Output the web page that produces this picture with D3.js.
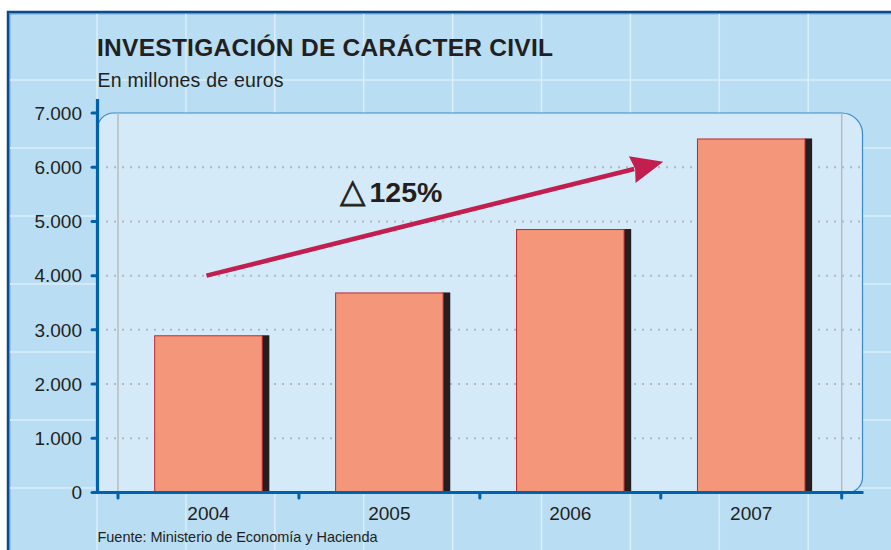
<!DOCTYPE html>
<html>
<head>
<meta charset="utf-8">
<script src="https://cdn.jsdelivr.net/npm/d3@7"></script>
<style>
  html, body { margin: 0; padding: 0; background: #fff; }
  svg { display: block; }
  text { font-family: "Liberation Sans", Arial, Helvetica, sans-serif; fill: #231f20; }
</style>
</head>
<body>
<svg id="chart" width="891" height="550"></svg>
<script>
// ---- data ----
const years = ["2004", "2005", "2006", "2007"];
const values = [2900, 3690, 4860, 6530];
const yTicks = [0, 1000, 2000, 3000, 4000, 5000, 6000, 7000];
const yTickLabels = ["0", "1.000", "2.000", "3.000", "4.000", "5.000", "6.000", "7.000"];
const title = "INVESTIGACIÓN DE CARÁCTER CIVIL";
const subtitle = "En millones de euros";
const source = "Fuente: Ministerio de Economía y Hacienda";
const growthLabel = "125%";
const arrowStartValue = 4000;
const arrowEndValue = 6100;

// ---- layout ----
const W = 891, H = 550;
const svg = d3.select("#chart");

const x = d3.scaleBand().domain(years).range([118, 841.7]).paddingInner(0.4).paddingOuter(0.2);
const y = d3.scaleLinear().domain([0, 7000]).range([492.5, 113]);

// background frame
svg.append("rect").attr("x", 0).attr("y", 0).attr("width", W).attr("height", H).attr("fill", "#ffffff");
svg.append("rect").attr("x", 8).attr("y", 12).attr("width", W + 20).attr("height", H + 20)
  .attr("fill", "#b9ddf3").attr("stroke", "#0d4a8b").attr("stroke-width", 2.5);
svg.append("rect").attr("x", 9.8).attr("y", 13.8).attr("width", W + 20).attr("height", H + 20)
  .attr("fill", "none").attr("stroke", "#3d8ed1").attr("stroke-width", 1);

// background grid
const bg = svg.append("g").attr("stroke", "#dbeefa").attr("stroke-width", 1.5);
for (let gx = 97; gx < W; gx += 88.9) {
  bg.append("line").attr("x1", gx).attr("x2", gx).attr("y1", 14).attr("y2", H);
}
for (let gy = 80; gy < H; gy += 68) {
  bg.append("line").attr("x1", 10).attr("x2", W).attr("y1", gy).attr("y2", gy);
}

// inner panel with rounded corners (TL, TR, BR)
const px0 = 97.5, px1 = 862.5, py0 = y(7000), py1 = y(0);
const rTL = 16, rTR = 21, rBR = 15;
const panelPath = d3.path();
panelPath.moveTo(px0, py1);
panelPath.lineTo(px0, py0 + rTL);
panelPath.arcTo(px0, py0, px0 + rTL, py0, rTL);
panelPath.lineTo(px1 - rTR, py0);
panelPath.arcTo(px1, py0, px1, py0 + rTR, rTR);
panelPath.lineTo(px1, py1 - rBR);
panelPath.arcTo(px1, py1, px1 - rBR, py1, rBR);
panelPath.lineTo(px0, py1);
panelPath.closePath();
svg.append("path").attr("d", panelPath.toString())
  .attr("fill", "#d4eaf8").attr("stroke", "#3a87cb").attr("stroke-width", 1.2);

// dotted horizontal gridlines
svg.append("g").selectAll("line").data(yTicks.filter(d => d > 0 && d < 7000)).join("line")
  .attr("x1", 106).attr("x2", 862).attr("y1", d => y(d)).attr("y2", d => y(d))
  .attr("stroke", "#b4b8bb").attr("stroke-width", 2).attr("stroke-dasharray", "2,6");

// gray vertical lines at range ends
const xr = x.range();
svg.append("g").selectAll("line").data(xr).join("line")
  .attr("x1", d => d).attr("x2", d => d).attr("y1", py0).attr("y2", py1)
  .attr("stroke", "#b9bcbf").attr("stroke-width", 1.5);

// bars: shadow + bar
const shadowW = 6.6;
svg.append("g").selectAll("rect").data(years).join("rect")
  .attr("x", d => x(d) + x.bandwidth() - 1)
  .attr("y", (d, i) => y(values[i]))
  .attr("width", shadowW + 1)
  .attr("height", (d, i) => y(0) - y(values[i]))
  .attr("fill", "#231f20");
svg.append("g").selectAll("rect").data(years).join("rect")
  .attr("x", d => x(d) + 0.5)
  .attr("y", (d, i) => y(values[i]) + 0.5)
  .attr("width", x.bandwidth() - 1)
  .attr("height", (d, i) => y(0) - y(values[i]) - 0.5)
  .attr("fill", "#f4967a").attr("stroke", "#c1272d").attr("stroke-width", 1);

// axes
const axisColor = "#0062ae";
// y axis
svg.append("line").attr("x1", 97.5).attr("x2", 97.5).attr("y1", 99).attr("y2", y(0) + 1.5)
  .attr("stroke", axisColor).attr("stroke-width", 3.2);
svg.append("g").selectAll("line").data(yTicks).join("line")
  .attr("x1", 92).attr("x2", 97).attr("y1", d => y(d)).attr("y2", d => y(d))
  .attr("stroke", axisColor).attr("stroke-width", 3).attr("stroke-linecap", "round");
svg.append("g").selectAll("text").data(yTicks).join("text")
  .attr("x", 82).attr("y", d => y(d) + 6.8)
  .attr("text-anchor", "end").attr("font-size", 19)
  .text((d, i) => yTickLabels[i]);

// x axis
svg.append("line").attr("x1", 96).attr("x2", 863.5).attr("y1", y(0)).attr("y2", y(0))
  .attr("stroke", axisColor).attr("stroke-width", 3.2);
const xTickPos = d3.range(years.length + 1).map(i => xr[0] + i * x.step());
svg.append("g").selectAll("line").data(xTickPos).join("line")
  .attr("x1", d => d).attr("x2", d => d).attr("y1", y(0)).attr("y2", y(0) + 5.5)
  .attr("stroke", axisColor).attr("stroke-width", 3).attr("stroke-linecap", "round");
svg.append("g").selectAll("text").data(years).join("text")
  .attr("x", d => x(d) + x.bandwidth() / 2).attr("y", 519.5)
  .attr("text-anchor", "middle").attr("font-size", 19)
  .text(d => d);

// titles
svg.append("text").attr("x", 97).attr("y", 56).attr("font-size", 24.5).attr("font-weight", "bold")
  .attr("textLength", 456).attr("lengthAdjust", "spacing").text(title);
svg.append("text").attr("x", 97.5).attr("y", 86.5).attr("font-size", 19.5)
  .attr("textLength", 186).attr("lengthAdjust", "spacing").text(subtitle);
svg.append("text").attr("x", 97.5).attr("y", 541.5).attr("font-size", 14.5)
  .attr("textLength", 280).attr("lengthAdjust", "spacing").text(source);

// growth arrow
const sx = x("2004") + x.bandwidth() / 2 - 2, sy = y(arrowStartValue);
const tx = x("2007") - (x.step() - x.bandwidth()) / 2 + 2.5, ty = y(arrowEndValue);
const dx = tx - sx, dy = ty - sy, len = Math.hypot(dx, dy);
const ux = dx / len, uy = dy / len, nx = -uy, ny = ux;
const headLen = 32, headHalf = 13.8, notch = 29;
const pA = [tx - ux * headLen + nx * headHalf, ty - uy * headLen + ny * headHalf];
const pB = [tx - ux * headLen - nx * headHalf, ty - uy * headLen - ny * headHalf];
const pN = [tx - ux * notch, ty - uy * notch];
const arrowColor = "#c21f4f";
svg.append("line").attr("x1", sx).attr("y1", sy).attr("x2", pN[0] - ux * 1).attr("y2", pN[1] - uy * 1)
  .attr("stroke", arrowColor).attr("stroke-width", 4.6);
svg.append("path").attr("d", d3.line()([[tx, ty], pA, pN, pB]) + "Z").attr("fill", arrowColor);

// label
const lbl = svg.append("text").attr("x", 340).attr("y", 202);
lbl.append("tspan").attr("font-family", "DejaVu Sans").attr("font-size", 33)
  .attr("stroke", "#231f20").attr("stroke-width", 0.7).text("△");
lbl.append("tspan").attr("x", 369.5).attr("font-size", 28.5).attr("font-weight", "bold").text(growthLabel);
</script>
</body>
</html>
